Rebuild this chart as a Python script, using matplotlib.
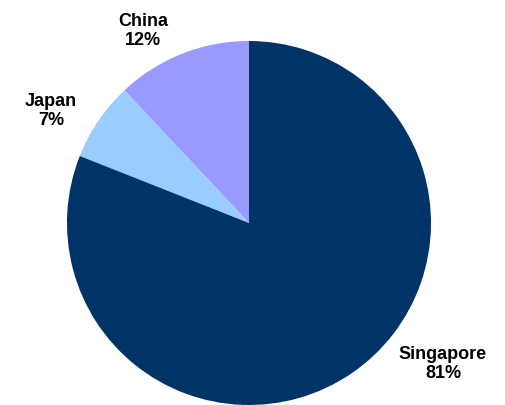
import matplotlib
matplotlib.use("Agg")
import matplotlib.pyplot as plt

countries = ["China", "Japan", "Singapore"]
shares = [12, 7, 81]
colors = ["#9999ff", "#99ccff", "#003366"]

# label anchor points (pixel-like data coords, origin bottom-left)
label_xy = [(143, 375), (51, 295), (443, 42)]


def main():
    fig = plt.figure(figsize=(5.06, 4.06), dpi=100)
    ax = fig.add_axes([0, 0, 1, 1])
    ax.pie(shares, colors=colors, startangle=90, counterclock=True,
           radius=182, center=(249, 182), frame=True,
           wedgeprops={"linewidth": 0})
    ax.set_xlim(0, 506)
    ax.set_ylim(0, 406)
    ax.set_aspect("equal")
    ax.axis("off")

    for name, val, (x, y) in zip(countries, shares, label_xy):
        ax.text(x, y, f"{name}\n{val}%", ha="center", va="center",
                fontsize=13, fontweight="bold", family="Liberation Sans",
                linespacing=1.2, color="black")

    fig.savefig("out.png", dpi=100)


main()
